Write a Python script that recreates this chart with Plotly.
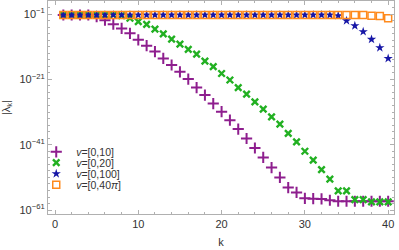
import numpy as np
import plotly.graph_objects as go

k = list(range(1, 41))

# log10 |lambda_k|
log_v10 = [-1.3, -1.3, -1.3, -1.3, -1.8, -2.9, -4.1, -5.4, -6.9, -8.9,
           -10.7, -12.5, -14.6, -16.6, -18.7, -20.9, -23.5, -25.8, -28.4, -30.9,
           -33.5, -36.2, -39.1, -42.0, -44.9, -48.0, -51.0, -54.1, -55.6, -57.4,
           -57.5, -57.6, -58.0, -58.3, -58.3, -58.3, -58.3, -58.3, -58.3, -58.3]
log_v20 = [-1.3, -1.3, -1.3, -1.3, -1.3, -1.3, -1.3, -1.5, -2.3, -3.35,
           -4.2, -5.6, -7.1, -8.7, -10.2, -11.8, -13.3, -15.4, -17.1, -19.2,
           -21.2, -23.5, -25.5, -27.9, -30.1, -32.5, -34.7, -37.5, -40.1, -43.0,
           -45.7, -48.6, -51.5, -55.1, -55.1, -57.8, -57.8, -58.5, -58.5, -58.5]
log_v100 = [-1.3] * 33 + [-1.5, -3.05, -4.6, -6.4, -8.75, -11.3, -14.6]
log_v40pi = [-1.3] * 37 + [-1.5, -1.6, -2.3]

series_names = ["<i>v</i>=[0,10]", "<i>v</i>=[0,20]", "<i>v</i>=[0,100]", "<i>v</i>=[0,40<i>π</i>]"]
series_vals = [log_v10, log_v20, log_v100, log_v40pi]

y_tickvals = [1e-1, 1e-21, 1e-41, 1e-61]
y_ticktext = ["10<sup>−1</sup>", "10<sup>−21</sup>", "10<sup>−41</sup>", "10<sup>−61</sup>"]
x_tickvals = [0, 10, 20, 30, 40]

colors = ["#8E1E8E", "#22B022", "#1616A6", "#FF8A1C"]
symbols = ["cross-thin", "x-thin", "star", "square-open"]
sizes = [8, 6.5, 7, 7]
lwidths = [2, 2.4, 0, 1.5]
legend_ids = ["legend", "legend2", "legend3", "legend4"]
legend_y = [0.292, 0.241, 0.189, 0.137]

fig = go.Figure()
for name, vals, c, s, sz, lw, lid in zip(series_names, series_vals, colors, symbols,
                                          sizes, lwidths, legend_ids):
    marker = dict(symbol=s, size=sz, color=c, line=dict(color=c, width=lw))
    fig.add_trace(go.Scatter(x=k, y=10 ** np.array(vals), mode="markers", name=name,
                             marker=marker, legend=lid, showlegend=True))

axis_col = "#b0b0b0"
font = dict(family="Liberation Sans, Arial, sans-serif", size=11, color="#333333")

layout_legends = {}
for lid, ly in zip(legend_ids, legend_y):
    layout_legends[lid] = dict(x=-0.034, y=ly, xanchor="left", yanchor="middle",
                               bgcolor="rgba(0,0,0,0)", itemwidth=30,
                               font=dict(family="Liberation Sans, Arial, sans-serif",
                                         size=10.5, color="#333333"),
                               tracegroupgap=0)

fig.update_layout(
    width=399, height=250,
    margin=dict(l=48, r=5, t=1, b=36, autoexpand=False),
    paper_bgcolor="white", plot_bgcolor="white",
    font=font,
    xaxis=dict(range=[-0.84, 40.7], tickvals=x_tickvals, ticks="inside", ticklen=4,
               tickcolor=axis_col, showline=True, linecolor=axis_col, linewidth=1,
               mirror="allticks", showgrid=False, zeroline=False, automargin=False,
               minor=dict(dtick=2, tick0=0, ticks="inside", ticklen=2, tickcolor=axis_col),
               title=dict(text="k", standoff=9, font=dict(size=11))),
    yaxis=dict(type="log", range=[-62.2, 2.98], tickvals=y_tickvals, ticktext=y_ticktext,
               ticks="inside", ticklen=4, tickcolor=axis_col, showline=True,
               linecolor=axis_col, linewidth=1, mirror="allticks", showgrid=False,
               zeroline=False, automargin=False,
               minor=dict(tickvals=[10.0 ** e for e in range(1, -63, -2)], ticks="inside",
                          ticklen=2, tickcolor=axis_col),
               title=dict(text="|λ<sub>k</sub>|", standoff=9, font=dict(size=11))),
    **layout_legends,
)

fig.write_html("out.html", config={"displayModeBar": False},
               post_script="document.body.style.margin='0';")
